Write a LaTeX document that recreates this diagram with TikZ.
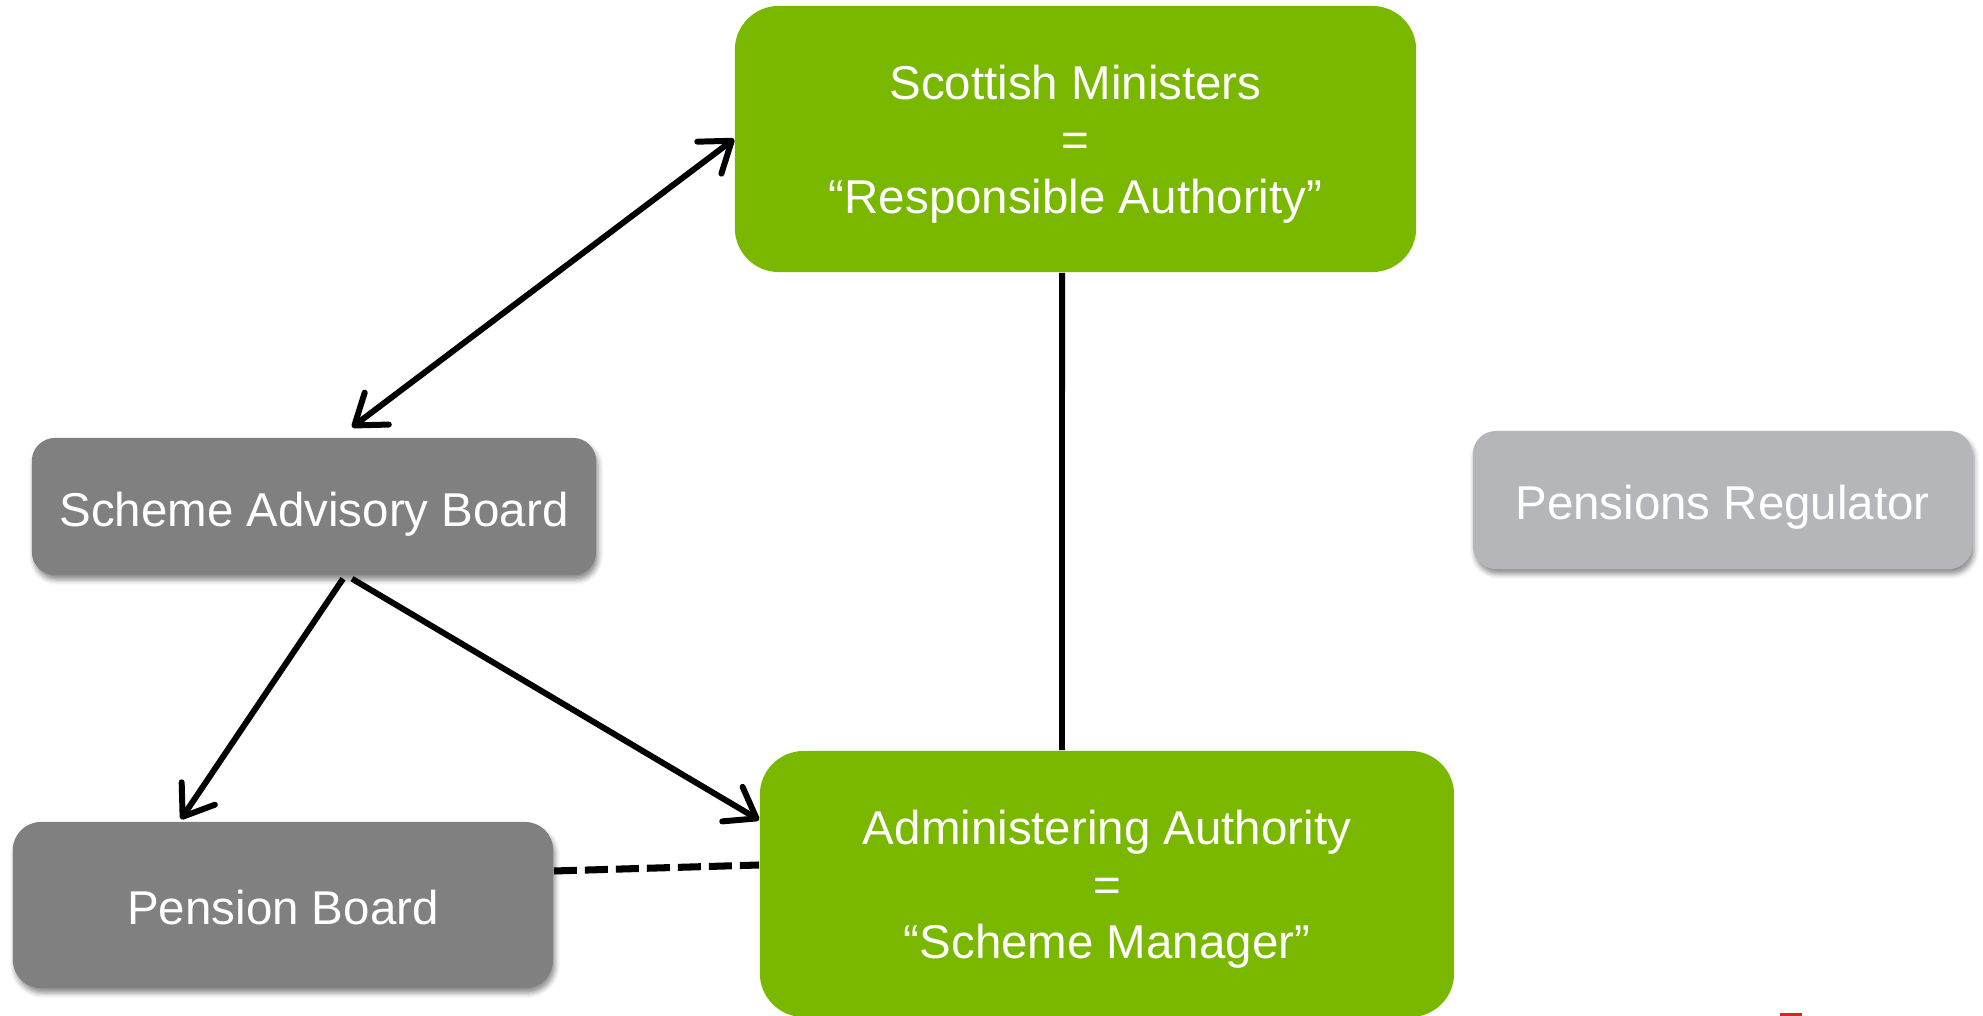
\documentclass[tikz,border=0pt]{standalone}
\usepackage{fontspec}
\setmainfont{Liberation Sans}
\usetikzlibrary{arrows.meta,shadows.blur}

\definecolor{boxgreen}{RGB}{122,184,0}
\definecolor{boxgrey}{RGB}{128,128,128}
\definecolor{lightgrey}{RGB}{181,182,185}
\definecolor{markred}{RGB}{224,32,32}

\begin{document}
\begin{tikzpicture}[x=0.01cm, y=-0.01cm,
        >={Straight Barb[round, length=0.28cm, width=0.4cm]},
        box/.style = {rectangle, inner sep=0pt, align=center, text=white,
            font=\fontsize{13.5}{16.2}\selectfont,
            execute at begin node=\strut, text depth=0pt},
        green box/.style = {box, fill=boxgreen, rounded corners=0.44cm,
            minimum width=6.81cm, minimum height=2.66cm},
        grey box/.style = {box, fill=boxgrey,
            blur shadow={shadow xshift=0.02cm, shadow yshift=-0.05cm,
                shadow blur radius=0.05cm, shadow opacity=45}},
        link/.style = {line width=1.7pt}]
    \useasboundingbox (0,0) rectangle (1983,1016);

    % Nodes with manual coordinates
    \node[green box] (sm) at (1075.5,139)
        {Scottish Ministers\\=\\“Responsible Authority”};
    \node[grey box, rounded corners=0.23cm, minimum width=5.64cm,
        minimum height=1.37cm] (sab) at (314,506.5) {Scheme Advisory Board};
    \node[grey box, fill=lightgrey, rounded corners=0.23cm, minimum width=4.99cm,
        minimum height=1.38cm] (pr) at (1722.5,500) {Pensions Regulator};
    \node[grey box, rounded corners=0.28cm, minimum width=5.40cm,
        minimum height=1.66cm] (pb) at (283,905) {Pension Board};
    \node[green box, minimum width=6.94cm] (aa) at (1107,884)
        {Administering Authority\\=\\“Scheme Manager”};

    % Edges
    \draw[link, <->] (sm.west) -- ([xshift=0.38cm, yshift=0.1cm]sab.north);
    \draw[link, ->] ([xshift=0.29cm, yshift=-0.03cm]sab.south)
        -- ([xshift=-1.02cm, yshift=0.02cm]pb.north);
    \draw[link, ->] ([xshift=0.38cm, yshift=-0.03cm]sab.south)
        -- ([yshift=0.64cm]aa.west);
    \draw[link] ([xshift=-0.135cm]sm.south) -- ([xshift=-0.45cm]aa.north);
    \draw[link, line width=2pt, dash pattern=on 0.23cm off 0.08cm]
        ([yshift=0.34cm]pb.east) -- ([yshift=0.19cm]aa.west);

    % small red mark at the bottom edge
    \fill[markred] (1780,1013) rectangle (1802,1016);
\end{tikzpicture}
\end{document}
